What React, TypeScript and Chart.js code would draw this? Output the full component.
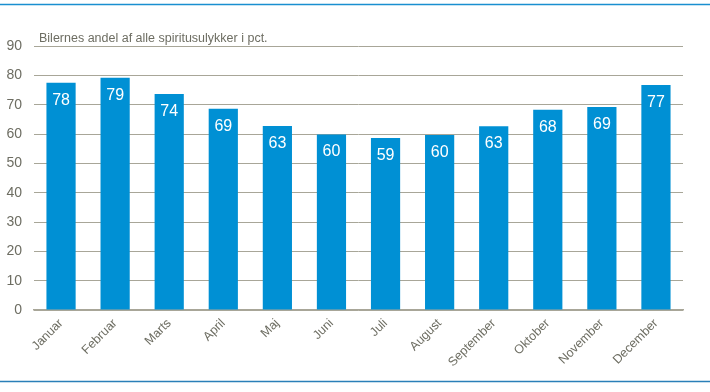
import React, { useEffect, useRef } from "react";
import { Chart, registerables } from "chart.js";

Chart.register(...registerables);

const months = [
  "Januar", "Februar", "Marts", "April", "Maj", "Juni",
  "Juli", "August", "September", "Oktober", "November", "December",
];
const shares = [77.5, 79.2, 73.6, 68.6, 62.7, 59.8, 58.6, 59.7, 62.6, 68.3, 69.2, 76.7];
const shareLabels = ["78", "79", "74", "69", "63", "60", "59", "60", "63", "68", "69", "77"];
const yMin = 0;
const yMax = 90;
const yStep = 10;
const titleText = "Bilernes andel af alle spiritusulykker i pct.";

const FONT = "'Liberation Sans', Arial, sans-serif";

const decorPlugin = {
  id: "decor",
  afterDraw(chart: any) {
    const { ctx, chartArea } = chart;
    ctx.save();
    // frame lines
    ctx.strokeStyle = "#1a8fd0";
    ctx.lineWidth = 1.5;
    ctx.beginPath();
    ctx.moveTo(0, 4.5);
    ctx.lineTo(chart.width, 4.5);
    ctx.stroke();
    ctx.strokeStyle = "#2a7fb8";
    ctx.beginPath();
    ctx.moveTo(0, 381.5);
    ctx.lineTo(chart.width, 381.5);
    ctx.stroke();
    // title
    ctx.fillStyle = "#6d6d62";
    ctx.font = `12.5px ${FONT}`;
    ctx.textAlign = "left";
    ctx.textBaseline = "alphabetic";
    ctx.fillText(titleText, chartArea.left + 5, 42);
    // value labels
    const meta = chart.getDatasetMeta(0);
    ctx.fillStyle = "#ffffff";
    ctx.font = `16px ${FONT}`;
    ctx.textAlign = "center";
    ctx.textBaseline = "middle";
    meta.data.forEach((bar: any, i: number) => {
      ctx.fillText(shareLabels[i], bar.x, bar.y + 17.5);
    });
    ctx.restore();
  },
};

export default function App() {
  const ref = useRef<HTMLCanvasElement>(null);
  useEffect(() => {
    document.body.style.margin = "0";
    const chart = new Chart(ref.current!, {
      type: "bar",
      data: {
        labels: months,
        datasets: [
          {
            data: shares,
            backgroundColor: "#0090d4",
            categoryPercentage: 1,
            barPercentage: 0.54,
          },
        ],
      },
      options: {
        responsive: false,
        animation: false,
        layout: { padding: { top: 46, left: 0, right: 27, bottom: 0 } },
        plugins: {
          legend: { display: false },
          title: { display: false },
          tooltip: { enabled: false },
        },
        scales: {
          x: {
            grid: { display: false, drawTicks: false },
            border: { display: true, color: "#a8a698", width: 1.5 },
            ticks: {
              color: "#6d6d62",
              font: { family: FONT, size: 12.5 },
              minRotation: 45,
              maxRotation: 45,
              padding: 6,
            },
            afterFit(scale: any) {
              scale.height = 82;
            },
          },
          y: {
            min: yMin,
            max: yMax,
            ticks: {
              stepSize: yStep,
              color: "#6d6d62",
              font: { family: FONT, size: 14 },
              padding: 12,
            },
            grid: { color: "#a8a698", lineWidth: 1, drawTicks: false },
            border: { display: false },
            afterFit(scale: any) {
              scale.width = 34;
            },
          },
        },
      },
      plugins: [decorPlugin],
    });
    return () => chart.destroy();
  }, []);
  return <canvas ref={ref} width={710} height={392} style={{ display: "block" }} />;
}
